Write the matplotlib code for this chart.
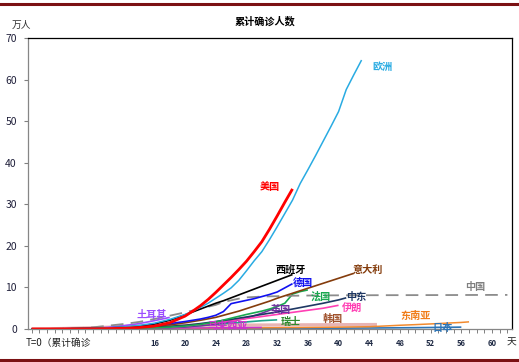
import matplotlib
matplotlib.use("Agg")
import matplotlib.pyplot as plt
from matplotlib.lines import Line2D

plt.rcParams['font.family'] = ['Noto Sans CJK SC', 'DejaVu Sans']

# ---- data (万人, day since T=0) ----
europe_d = [0, 2, 4, 6, 8, 10, 12, 14, 16, 18, 20, 21, 22, 23, 24, 25, 26, 27, 28, 29, 30, 31, 32, 33, 34, 35, 36, 37, 38, 39, 40, 41, 42, 43]
europe_v = [0.01, 0.03, 0.06, 0.1, 0.18, 0.3, 0.5, 0.85, 1.4, 2.3, 3.5, 4.3, 5.2, 6.2, 7.4, 8.6, 9.9, 11.7, 14.0, 16.4, 18.6, 21.5, 24.6, 27.8, 31.0, 35.0, 38.3, 41.7, 45.2, 48.7, 52.3, 57.6, 61.2, 64.7]

usa_d = [0, 2, 4, 6, 8, 10, 12, 14, 16, 18, 20, 21, 22, 23, 24, 25, 26, 27, 28, 29, 30, 31, 32, 33, 34]
usa_v = [0.01, 0.01, 0.02, 0.03, 0.05, 0.1, 0.18, 0.35, 0.7, 1.5, 3.1, 4.3, 5.6, 7.1, 8.8, 10.6, 12.4, 14.3, 16.3, 18.6, 21.0, 24.0, 27.2, 30.5, 33.7]

spain_d = [0, 2, 4, 6, 8, 10, 12, 14, 16, 18, 20, 21, 22, 23, 24, 25, 26, 27, 28, 29, 30, 31, 32, 33, 34]
spain_v = [0.01, 0.02, 0.04, 0.08, 0.15, 0.25, 0.4, 0.7, 1.2, 2.1, 3.4, 4.1, 4.8, 5.5, 6.2, 6.8, 7.5, 8.2, 8.9, 9.6, 10.3, 11.0, 11.7, 12.4, 13.1]

germany_d = [0, 2, 4, 6, 8, 10, 12, 14, 16, 18, 20, 21, 22, 23, 24, 25, 26, 27, 28, 29, 30, 31, 32, 33, 34]
germany_v = [0.01, 0.01, 0.02, 0.04, 0.08, 0.15, 0.25, 0.45, 0.8, 1.3, 1.8, 2.1, 2.4, 2.8, 3.3, 4.2, 6.1, 6.5, 6.9, 7.3, 7.8, 8.3, 8.9, 9.9, 10.9]

italy_d = [0, 2, 4, 6, 8, 10, 12, 14, 16, 18, 20, 22, 24, 25, 26, 27, 28, 29, 30, 31, 32, 33, 34, 35, 36, 37, 38, 39, 40, 41, 42]
italy_v = [0.01, 0.02, 0.04, 0.08, 0.15, 0.25, 0.35, 0.5, 0.7, 1.0, 1.5, 2.1, 2.8, 3.3, 3.8, 4.3, 4.9, 5.5, 6.1, 6.7, 7.4, 8.0, 8.6, 9.2, 9.8, 10.4, 11.0, 11.6, 12.2, 12.8, 13.4]

china_d = [0, 2, 4, 6, 8, 10, 12, 14, 16, 18, 20, 22, 24, 25, 26, 27, 28, 29, 30, 32, 34, 36, 38, 40, 45, 50, 55, 60, 62]
china_v = [0.01, 0.04, 0.1, 0.2, 0.4, 0.8, 1.2, 1.7, 2.4, 3.2, 4.0, 4.9, 5.8, 6.5, 6.9, 7.3, 7.6, 7.7, 7.8, 7.9, 8.0, 8.05, 8.08, 8.1, 8.13, 8.15, 8.17, 8.2, 8.2]

france_d = [0, 2, 4, 6, 8, 10, 12, 14, 16, 18, 20, 22, 24, 26, 28, 30, 31, 32, 33, 34, 35, 36]
france_v = [0.01, 0.01, 0.02, 0.03, 0.05, 0.08, 0.12, 0.2, 0.3, 0.45, 0.7, 1.1, 1.7, 2.6, 3.5, 4.3, 4.8, 5.4, 6.2, 8.4, 9.0, 9.4]

mideast_d = [0, 2, 4, 6, 8, 10, 12, 14, 16, 18, 20, 22, 24, 26, 28, 30, 32, 34, 36, 38, 40, 41]
mideast_v = [0.01, 0.02, 0.04, 0.07, 0.12, 0.2, 0.3, 0.4, 0.5, 0.65, 0.9, 1.3, 1.8, 2.3, 2.9, 3.5, 4.1, 4.8, 5.5, 6.2, 7.0, 7.5]

iran_d = [0, 2, 4, 6, 8, 10, 12, 14, 16, 18, 20, 22, 24, 26, 28, 30, 32, 34, 36, 38, 40]
iran_v = [0.01, 0.02, 0.04, 0.07, 0.1, 0.15, 0.2, 0.25, 0.3, 0.45, 0.7, 1.1, 1.5, 2.0, 2.5, 3.0, 3.5, 4.0, 4.5, 5.0, 5.7]

uk_d = [0, 2, 4, 6, 8, 10, 12, 14, 16, 18, 20, 22, 24, 26, 28, 30, 31, 32]
uk_v = [0.01, 0.01, 0.02, 0.03, 0.05, 0.08, 0.12, 0.18, 0.25, 0.35, 0.5, 0.8, 1.2, 1.8, 2.6, 3.8, 4.5, 5.3]

swiss_d = [0, 2, 4, 6, 8, 10, 12, 14, 16, 18, 20, 22, 24, 26, 28, 30, 32]
swiss_v = [0.01, 0.01, 0.02, 0.03, 0.04, 0.06, 0.08, 0.1, 0.2, 0.35, 0.55, 0.8, 1.1, 1.4, 1.7, 2.0, 2.2]

korea_d = [0, 2, 4, 6, 8, 10, 12, 14, 16, 18, 20, 25, 30, 35, 40, 45]
korea_v = [0.01, 0.04, 0.1, 0.2, 0.3, 0.42, 0.6, 0.72, 0.8, 0.84, 0.87, 0.9, 0.95, 0.99, 1.03, 1.06]

sea_d = [0, 5, 10, 15, 20, 25, 30, 35, 40, 44, 46, 48, 50, 52, 54, 56, 57]
sea_v = [0.01, 0.04, 0.08, 0.12, 0.17, 0.22, 0.28, 0.35, 0.45, 0.55, 0.72, 0.9, 1.05, 1.22, 1.4, 1.58, 1.72]

japan_d = [0, 5, 10, 15, 20, 25, 30, 35, 40, 45, 50, 53, 56]
japan_v = [0.01, 0.02, 0.03, 0.05, 0.07, 0.09, 0.12, 0.15, 0.2, 0.25, 0.32, 0.38, 0.45]

turkey_d = [0, 2, 4, 6, 8, 10, 12, 14, 16, 18]
turkey_v = [0.01, 0.02, 0.05, 0.1, 0.2, 0.4, 0.8, 1.3, 2.0, 2.8]

malaysia_d = [0, 5, 10, 15, 20, 25, 30]
malaysia_v = [0.01, 0.05, 0.1, 0.17, 0.23, 0.3, 0.37]

xtick_labels = [16, 20, 24, 28, 32, 36, 40, 44, 48, 52, 56, 60]

# name, days, values, colour, width, dashed, label x, label y, label colour
series = [
    ("韩国", korea_d, korea_v, "#E8B4B4", 2.4, False, 39.2, 2.4, "#A0522D"),
    ("日本", japan_d, japan_v, "#2E75B6", 1.2, False, 53.5, 0.25, "#2E75B6"),
    ("东南亚", sea_d, sea_v, "#F28A2E", 1.1, False, 50.0, 3.1, "#F07D1A"),
    ("马来西亚", malaysia_d, malaysia_v, "#CC33CC", 1.1, False, 25.6, 0.7, "#CC33CC"),
    ("瑞士", swiss_d, swiss_v, "#1FA38A", 1.2, False, 33.8, 1.7, "#2E8B2E"),
    ("土耳其", turkey_d, turkey_v, "#9B4DFF", 1.2, False, 15.6, 3.4, "#9B4DFF"),
    ("英国", uk_d, uk_v, "#7030A0", 1.2, False, 32.5, 4.6, "#7030A0"),
    ("伊朗", iran_d, iran_v, "#FF3FB4", 1.2, False, 41.8, 4.8, "#FF3FB4"),
    ("中东", mideast_d, mideast_v, "#1F3864", 1.2, False, 42.3, 7.7, "#1F3864"),
    ("法国", france_d, france_v, "#19A850", 1.2, False, 37.7, 7.9, "#19A850"),
    ("中国", china_d, china_v, "#8C8C8C", 1.3, True, 57.8, 10.1, "#808080"),
    ("意大利", italy_d, italy_v, "#843C0C", 1.2, False, 43.8, 14.2, "#843C0C"),
    ("德国", germany_d, germany_v, "#1010F0", 1.2, False, 35.3, 11.1, "#1010F0"),
    ("西班牙", spain_d, spain_v, "#000000", 1.2, False, 33.7, 14.4, "#000000"),
    ("欧洲", europe_d, europe_v, "#29ABE2", 1.1, False, 45.7, 63.0, "#29ABE2"),
    ("美国", usa_d, usa_v, "#FF0000", 2.0, False, 31.1, 34.1, "#FF0000"),
]

fig = plt.figure(figsize=(5.19, 3.62), dpi=100)
ax = fig.add_axes([28 / 519, 33 / 362, 484 / 519, 291 / 362])

for name, d, v, col, lw, dashed, lx, ly, lcol in series:
    ax.plot(d, v, color=col, lw=lw, ls=(0, (7, 4)) if dashed else "-",
            solid_capstyle="butt")
    ax.text(lx, ly, name, color=lcol, fontsize=7.3, fontweight="bold",
            ha="center", va="center")

ax.set_xlim(-0.47, 62.6)
ax.set_ylim(0, 70)
ax.set_yticks(range(0, 71, 10))
ax.set_xticks(range(0, 63))
ax.set_xticklabels([str(i) if i in xtick_labels else "" for i in range(0, 63)])
ax.tick_params(axis="y", direction="out", length=3, width=0.8, color="#808080",
               labelsize=7.5, labelcolor="#1F1F3A", pad=5)
ax.tick_params(axis="x", direction="out", length=3, width=0.7, color="#808080",
               labelsize=5.5, labelcolor="#1F2A44", pad=4)
for lab in ax.get_xticklabels():
    lab.set_fontweight("bold")

for side in ["top", "right"]:
    ax.spines[side].set_color("black")
    ax.spines[side].set_linewidth(0.9)
for side in ["left", "bottom"]:
    ax.spines[side].set_color("#868686")
    ax.spines[side].set_linewidth(0.9)

fig.text(265 / 519, 1 - 21 / 362, "累计确诊人数", fontsize=7.3, fontweight="bold",
         ha="center", va="center", color="black")
fig.text(12 / 519, 1 - 25 / 362, "万人", fontsize=7, style="italic",
         ha="left", va="center", color="#333333")
fig.text(26 / 519, 1 - 343 / 362, "T=0（累计确诊", fontsize=7,
         ha="left", va="center", color="#222222")
fig.text(507 / 519, 1 - 343 / 362, "天", fontsize=7,
         ha="left", va="center", color="#222222")

# dark red rules at top and bottom
for yy in [1 - 4 / 362, 1 - 360 / 362]:
    fig.add_artist(Line2D([0, 1], [yy, yy], transform=fig.transFigure,
                          color="#7B1113", lw=2.2))

fig.savefig("out.png", dpi=100)
